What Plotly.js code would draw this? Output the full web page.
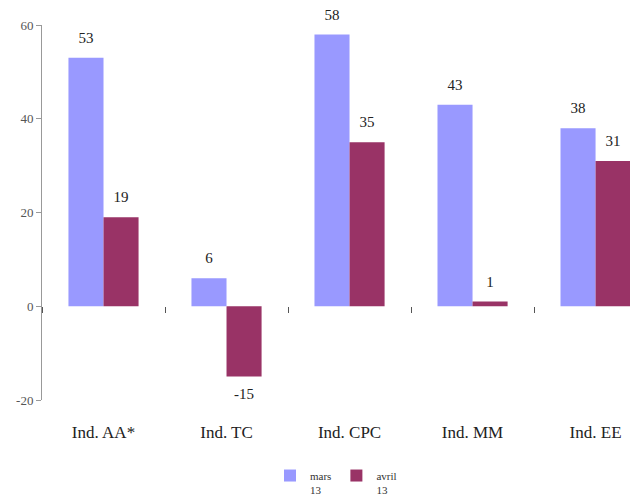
<!DOCTYPE html>
<html>
<head>
<meta charset="utf-8">
<script src="https://cdn.plot.ly/plotly-3.0.1.min.js"></script>
<style>html,body{margin:0;padding:0;background:#fff}</style>
</head>
<body>
<div id="chart" style="width:630px;height:504px"></div>
<script>
var categories = ["Ind. AA*", "Ind. TC", "Ind. CPC", "Ind. MM", "Ind. EE"];
var marsValues = [53, 6, 58, 43, 38];
var avrilValues = [19, -15, 35, 1, 31];
var seriesNames = ["mars<br>13", "avril<br>13"];
var yTicks = [-20, 0, 20, 40, 60];

var serif = "Liberation Serif, DejaVu Serif, serif";

function labelTrace(vals, group) {
  return {
    type: "scatter", mode: "markers+text", x: categories, y: vals,
    offsetgroup: group,
    text: vals.map(String),
    textposition: vals.map(function (v) { return v < 0 ? "bottom center" : "top center"; }),
    textfont: {family: serif, size: 15, color: "#222"},
    marker: {size: 16, opacity: 0},
    cliponaxis: false, showlegend: false, hoverinfo: "skip"
  };
}

var traces = [
  {
    type: "bar", x: categories, y: marsValues, name: seriesNames[0],
    marker: {color: "#9999FF"}, offsetgroup: "m", hoverinfo: "skip"
  },
  {
    type: "bar", x: categories, y: avrilValues, name: seriesNames[1],
    marker: {color: "#993366"}, offsetgroup: "a", hoverinfo: "skip"
  },
  labelTrace(marsValues, "m"),
  labelTrace(avrilValues, "a"),
  {
    type: "scatter", mode: "markers", x: categories, y: marsValues,
    xaxis: "x2", yaxis: "y", marker: {opacity: 0}, showlegend: false, hoverinfo: "skip"
  }
];

var layout = {
  width: 630, height: 504,
  margin: {l: 42, r: 0, t: 25, b: 102},
  paper_bgcolor: "#fff", plot_bgcolor: "#fff",
  barmode: "group", bargap: 0.43, bargroupgap: 0,
  scattermode: "group", scattergap: 0.43,
  showlegend: true,
  legend: {
    orientation: "h", x: 0.5, xanchor: "center", y: -0.165, yanchor: "top",
    font: {family: serif, size: 11, color: "#333"},
    valign: "top", itemwidth: 30, tracegroupgap: 0
  },
  xaxis: {
    type: "category", range: [-0.5, 4.28],
    showline: false, ticks: "", showgrid: false, zeroline: false,
    tickfont: {family: serif, size: 17, color: "#222"},
    ticklabelstandoff: 20
  },
  xaxis2: {
    type: "category", overlaying: "x", matches: "x",
    anchor: "free", position: 0.25,
    showline: false, showgrid: false, zeroline: false,
    showticklabels: false, ticks: "outside", ticklen: 6, tickwidth: 1,
    tickcolor: "#555", tickson: "boundaries"
  },
  yaxis: {
    range: [-20, 60], tickvals: yTicks, ticktext: yTicks.map(String),
    showline: true, linecolor: "#999", linewidth: 1,
    ticks: "outside", ticklen: 5, tickcolor: "#999",
    showgrid: false, zeroline: false,
    tickfont: {family: serif, size: 13, color: "#555"}
  }
};

Plotly.newPlot("chart", traces, layout, {displayModeBar: false, staticPlot: true});
</script>
</body>
</html>
